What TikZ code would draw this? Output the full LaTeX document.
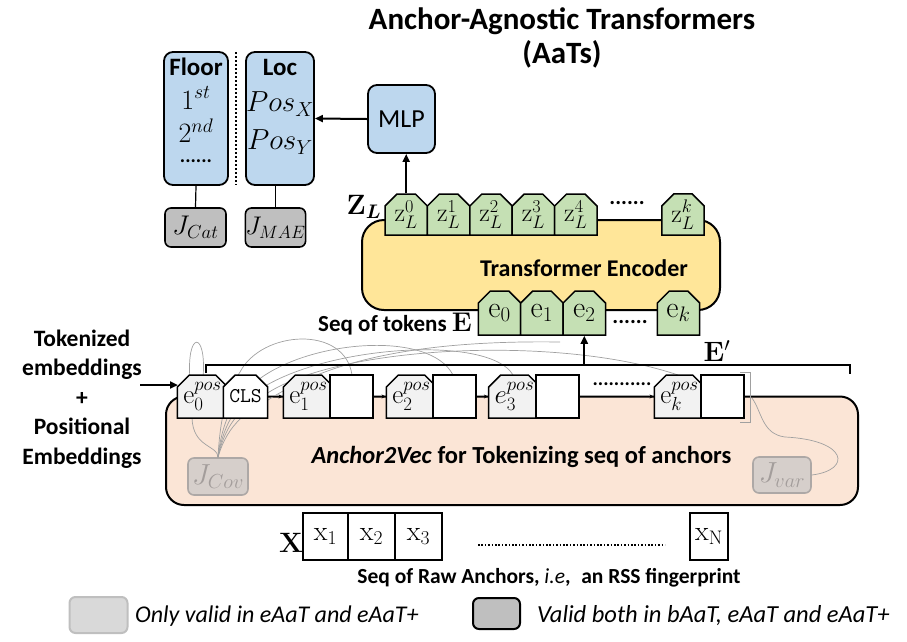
\RequirePackage{fix-cm}
\documentclass[tikz,border=0pt]{standalone}
\usepackage{amsmath}
\usepackage[no-math]{fontspec}
\setmainfont{Carlito}
\usetikzlibrary{shapes.misc,arrows.meta}
\definecolor{blueF}{HTML}{BDD7EE}
\definecolor{greenF}{HTML}{C5E0B4}
\definecolor{yellowF}{HTML}{FFE699}
\definecolor{peachF}{HTML}{FBE5D6}
\definecolor{grayF}{HTML}{BFBFBF}
\definecolor{tokF}{HTML}{F2F2F2}
\definecolor{jlF}{HTML}{D6CFCB}
\definecolor{jlD}{HTML}{ADA8A6}
\definecolor{jlT}{HTML}{A39D9B}
\definecolor{legL}{HTML}{D9D9D9}
\definecolor{legLD}{HTML}{BFBFBF}
\definecolor{curveC}{HTML}{A0A0A0}
\newcommand\fsz[2]{\fontsize{#1}{#2}\selectfont}
\begin{document}
\begin{tikzpicture}[x=1pt,y=-1pt,
  bluebox/.style={draw,line width=1.8pt,fill=blueF,rounded corners=9pt,inner sep=0pt},
  jbox/.style={draw,line width=1.6pt,fill=grayF,rounded corners=6pt,inner sep=0pt,minimum height=39,font=\fsz{27}{31}},
  jlight/.style={draw=jlD,line width=1.6pt,fill=jlF,rounded corners=6pt,inner sep=0pt,text=jlT,font=\fsz{29}{33}},
  tok/.style={chamfered rectangle,chamfered rectangle corners={north west,north east},
     chamfered rectangle xsep=6pt,chamfered rectangle ysep=6pt,draw,line width=1.5pt,
     inner sep=0pt,minimum width=42.4,font=\fsz{27}{31}},
  ztok/.style={tok,fill=greenF,minimum height=41,font=\fsz{26}{30}},
  etok/.style={tok,fill=greenF,minimum height=44,font=\fsz{30}{34}},
  ptok/.style={tok,fill=tokF,minimum height=43,minimum width=43},
  btok/.style={tok,fill=white,minimum height=43,minimum width=43},
  xbox/.style={draw,line width=1.2pt,inner sep=0pt,minimum height=47,font=\fsz{28}{32}},
  arr/.style={line width=2pt,-{Triangle[length=8pt,width=7pt]}},
  smallarr/.style={line width=1.5pt,-{Stealth[length=4pt,width=4pt]}},
  graycurve/.style={draw=curveC,line width=0.7pt},
  lbl/.style={inner sep=0pt}
]
\useasboundingbox (0,0) rectangle (907,641);

% title
\node[lbl,font=\fsz{31}{34}\bfseries,align=center] (title) at (562,38) {Anchor-Agnostic Transformers\\(AaTs)};

% output heads
\node[bluebox,minimum width=64,minimum height=133] (floor) at (196,118.5) {};
\node[bluebox,minimum width=68,minimum height=133] (loc) at (280,118.5) {};
\node[lbl,font=\fsz{25}{30}\bfseries] (floort) at (196,67) {Floor};
\node[lbl,font=\fsz{28}{32}] (f1) at (196,98) {$1^{st}$};
\node[lbl,font=\fsz{28}{32}] (f2) at (196,131) {$2^{nd}$};
\node[lbl,font=\fsz{20}{24}\bfseries] (f3) at (196,161) {......};
\node[lbl,font=\fsz{25}{30}\bfseries] (loct) at (280,67) {Loc};
\node[lbl,font=\fsz{29}{33}] (px) at (280,104) {$Pos_X$};
\node[lbl,font=\fsz{29}{33}] (py) at (280,142) {$Pos_Y$};
\draw[line width=2pt,dotted] (236,52) -- (236,185);

\node[jbox,minimum width=61] (jcat) at (195.5,227.5) {$J_{Cat}$};
\node[jbox,minimum width=59,font=\fsz{25.5}{30}] (jmae) at (275.5,227.5) {$J_{MAE}$};
\draw[line width=1.2pt] (floor.south) -- (jcat.north);
\draw[line width=1.2pt] (jmae.north) -- (jmae.north |- loc.south);

\node[bluebox,minimum width=67,minimum height=68,font=\fsz{26}{30}] (mlp) at (401.5,119) {MLP};
\draw[arr] (mlp.west) -- (loc.east);

% transformer encoder
\node[draw,line width=2pt,fill=yellowF,rounded corners=22pt,minimum width=358,minimum height=90] (enc) at (541,265) {};
\node[lbl,font=\fsz{24}{28}\bfseries] (enct) at (584,268) {Transformer Encoder};

\node[ztok] (z0) at (406.2,214.5) {$\mathrm{z}_L^0$};
\node[ztok] (z1) at (448.6,214.5) {$\mathrm{z}_L^1$};
\node[ztok] (z2) at (491.0,214.5) {$\mathrm{z}_L^2$};
\node[ztok] (z3) at (533.4,214.5) {$\mathrm{z}_L^3$};
\node[ztok] (z4) at (575.8,214.5) {$\mathrm{z}_L^4$};
\node[lbl,font=\fsz{22}{26}\bfseries] (zd) at (627,203) {......};
\node[ztok] (zk) at (683,214.5) {$\mathrm{z}_L^k$};
\node[lbl,font=\fsz{28}{32}] (zl) at (364,207) {$\mathbf{Z}_{\boldsymbol{L}}$};
\draw[arr] (z0.north) -- (z0.north |- mlp.south);

\node[etok] (e0) at (499.5,313) {$\mathrm{e}_0$};
\node[etok] (e1) at (541.9,313) {$\mathrm{e}_1$};
\node[etok] (e2) at (584.3,313) {$\mathrm{e}_2$};
\node[lbl,font=\fsz{22}{26}\bfseries] (ed) at (630,322) {......};
\node[etok] (ek) at (678.5,313) {$\mathrm{e}_k$};
\node[lbl,font=\fsz{23}{27}\bfseries,anchor=east] (seqtok) at (472,324) {Seq of tokens {\fsz{27}{30}$\mathbf{E}$}};

% anchor2vec box
\node[draw,line width=2pt,fill=peachF,rounded corners=18pt,minimum width=692,minimum height=108.5] (a2v) at (512,450.75) {};
\node[lbl,font=\fsz{24.5}{28}\bfseries] (a2vt) at (521.5,457) {\textit{Anchor2Vec} for Tokenizing seq of anchors};

\node[jlight,minimum width=60,minimum height=37] (jcov) at (218,476.5) {$J_{Cov}$};
\node[jlight,minimum width=58,minimum height=36] (jvar) at (782,475) {$J_{var}$};

% gray curves (behind tokens)
\draw[graycurve] (jcov.north) .. controls (218,445) and (193,448) .. (192,418) -- (190,380) .. controls (186,330) and (207,330) .. (203,378);
\draw[graycurve] (jcov.north) .. controls (220,420) and (226,392) .. (240,372) .. controls (262,330) and (345,325) .. (352,375);
\draw[graycurve] (jcov.north) .. controls (222,420) and (235,395) .. (258,380) .. controls (310,340) and (430,330) .. (453,375);
\draw[graycurve] (jcov.north) .. controls (224,420) and (240,400) .. (262,388) .. controls (330,345) and (490,335) .. (513,375);
\draw[graycurve] (jcov.north) .. controls (226,420) and (245,405) .. (266,394) .. controls (340,345) and (560,335) .. (678,375);
\draw[graycurve] (jcov.north) .. controls (228,422) and (250,410) .. (268,400) .. controls (330,360) and (420,340) .. (560,342);
\draw[graycurve] (jvar.east) .. controls (852,470) and (848,440) .. (785,437) .. controls (762,434) and (762,412) .. (752,398);
\draw[curveC,line width=1pt] (740,372) -- (750,372) -- (750,422) -- (740,422);

% token row
\node[ptok] (e0p) at (202.5,396.5) {$\mathrm{e}_0^{pos}$};
\node[btok] (cls) at (245.5,396.5) {\fsz{21}{24}\ttfamily CLS};
\node[ptok] (e1p) at (308.5,396.5) {$\mathrm{e}_1^{pos}$};
\node[btok] (b1) at (351.5,396.5) {};
\node[ptok] (e2p) at (411.5,396.5) {$\mathrm{e}_2^{pos}$};
\node[btok] (b2) at (454.5,396.5) {};
\node[ptok] (e3p) at (514.5,396.5) {$e_3^{pos}$};
\node[btok] (b3) at (557.5,396.5) {};
\node[lbl,font=\fsz{20}{24}\bfseries] (pd) at (622,384) {...........};
\node[ptok] (ekp) at (679.5,396.5) {$\mathrm{e}_k^{pos}$};
\node[btok] (bk) at (722.5,396.5) {};
\draw[smallarr] (cls.east) -- (e1p.west);
\draw[smallarr] (b1.east) -- (e2p.west);
\draw[smallarr] (b2.east) -- (e3p.west);
\draw[smallarr] (b3.east) -- (ekp.west);

% E' bracket
\coordinate (brl) at (206,365);
\coordinate (brr) at (850,365);
\coordinate (brm) at (584.3,365);
\draw[line width=2pt] ([yshift=-8pt]brl) -- (brl) -- (brr) -- ([yshift=-9pt]brr);
\draw[arr] (brm) -- (e2.south);
\node[lbl,font=\fsz{28}{32}] (ep) at (717,351) {$\mathbf{E}'$};

% left label
\node[lbl,font=\fsz{23.5}{29.5}\bfseries,align=center] (tokl) at (82,399) {Tokenized\\embeddings\\+\\Positional\\Embeddings};
\coordinate (lin) at (140,385);
\coordinate (lout) at (178,385);
\draw[arr] (lin) -- (lout);

% raw anchors
\node[lbl,font=\fsz{28}{32}] (xl) at (291,543) {$\mathbf{X}$};
\node[xbox,minimum width=45] (x1) at (325.5,536.5) {$\mathrm{x}_1$};
\node[xbox,minimum width=47] (x2) at (371.5,536.5) {$\mathrm{x}_2$};
\node[xbox,minimum width=47] (x3) at (418.5,536.5) {$\mathrm{x}_3$};
\node[xbox,minimum width=38] (xn) at (709,536.5) {$\mathrm{x}_\mathrm{N}$};
\coordinate (dl) at (478,545);
\coordinate (dr) at (665,545);
\draw[line width=1.6pt,dash pattern=on 1.6pt off 1.8pt] (dl) -- (dr);
\node[lbl,font=\fsz{21.5}{25}\bfseries] (raw) at (549,578) {Seq of Raw Anchors, \textit{\mdseries i.e},\enspace an RSS fingerprint};

% legend
\node[draw=legLD,fill=legL,line width=2pt,rounded corners=6pt,minimum width=58,minimum height=36] (legl) at (98.5,615) {};
\node[lbl,font=\fsz{24}{28}\itshape,anchor=west] (leglt) at (135,616) {Only valid in eAaT and eAaT+};
\node[draw,fill=grayF,line width=2pt,rounded corners=6pt,minimum width=47,minimum height=31] (legd) at (496.5,613.5) {};
\node[lbl,font=\fsz{24.5}{28}\itshape,anchor=west] (legdt) at (537,616) {Valid both in bAaT, eAaT and eAaT+};
\end{tikzpicture}
\end{document}
